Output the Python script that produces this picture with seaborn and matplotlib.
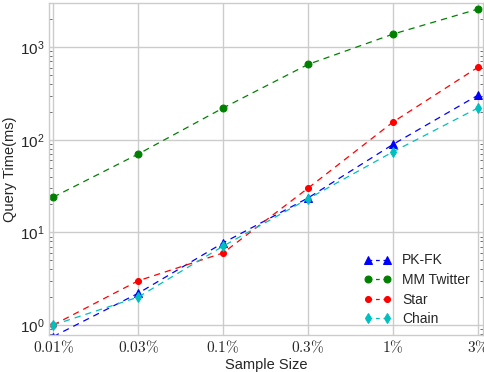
import numpy as np
import pandas as pd
import seaborn as sns
import matplotlib
matplotlib.use("Agg")
import matplotlib.pyplot as plt

categories = ["$0.01\\%$", "$0.03\\%$", "$0.1\\%$", "$0.3\\%$", "$1\\%$", "$3\\%$"]
pkfk = [0.75, 2.2, 7.7, 23.5, 89, 302]
mm_twitter = [24, 70, 220, 650, 1380, 2570]
star = [1.0, 3.0, 6.0, 30, 155, 605]
chain = [1.0, 2.0, 7.1, 23, 74, 220]

series_names = ["PK-FK", "MM Twitter", "Star", "Chain"]
series_vals = [pkfk, mm_twitter, star, chain]
colors = ["#0000ff", "#008000", "#ff0000", "#00bfbf"]
markers = ["^", "o", "o", "d"]
msizes = [5.5, 5, 4.3, 5.5]

sns.set_theme(style="whitegrid")
plt.rcParams["font.family"] = ["Liberation Sans", "DejaVu Sans"]
plt.rcParams["mathtext.fontset"] = "cm"

fig = plt.figure(figsize=(4.85, 3.72), dpi=100)
ax = fig.add_axes([49/485, 1-335/372, (483-49)/485, (335-3)/372])

xpos = np.arange(len(categories))
for name, vals, c, m, ms in zip(series_names, series_vals, colors, markers, msizes):
    df = pd.DataFrame({"x": xpos, "y": vals})
    sns.lineplot(data=df, x="x", y="y", ax=ax, color=c, marker=m, markersize=ms,
                 markeredgecolor=c, linewidth=0.9, label=name, dashes=False)
for line in ax.get_lines():
    line.set_linestyle((0, (5, 4)))

ax.set_yscale("log")
ax.set_ylim(0.78, 2990)
ax.set_xlim(-0.05, 5.06)
ax.set_xticks(xpos)
ax.set_xticklabels(categories, fontsize=11)
ax.set_xlabel("Sample Size", fontsize=10.5, labelpad=2)
ax.set_ylabel("Query Time(ms)", fontsize=10.5, labelpad=2)
ax.tick_params(axis="y", which="major", labelsize=11, length=0, pad=3)
ax.tick_params(axis="x", which="major", length=0, pad=3)
ax.tick_params(axis="y", which="minor", left=True, right=True, direction="in",
               length=2, width=0.6, color="#555555")
ax.grid(True, which="major", color="#cccccc", linewidth=1.0)
ax.grid(False, which="minor")
for sp in ax.spines.values():
    sp.set_color("#cccccc")
    sp.set_linewidth(1.0)

leg = ax.legend(loc="lower right", frameon=False, fontsize=10, handlelength=2.0,
                handletextpad=0.8, numpoints=2, labelspacing=0.4,
                bbox_to_anchor=(0.999, -0.011))
for h in leg.get_lines():
    h.set_linestyle((0, (3, 3)))

fig.savefig("out.png", dpi=100)
